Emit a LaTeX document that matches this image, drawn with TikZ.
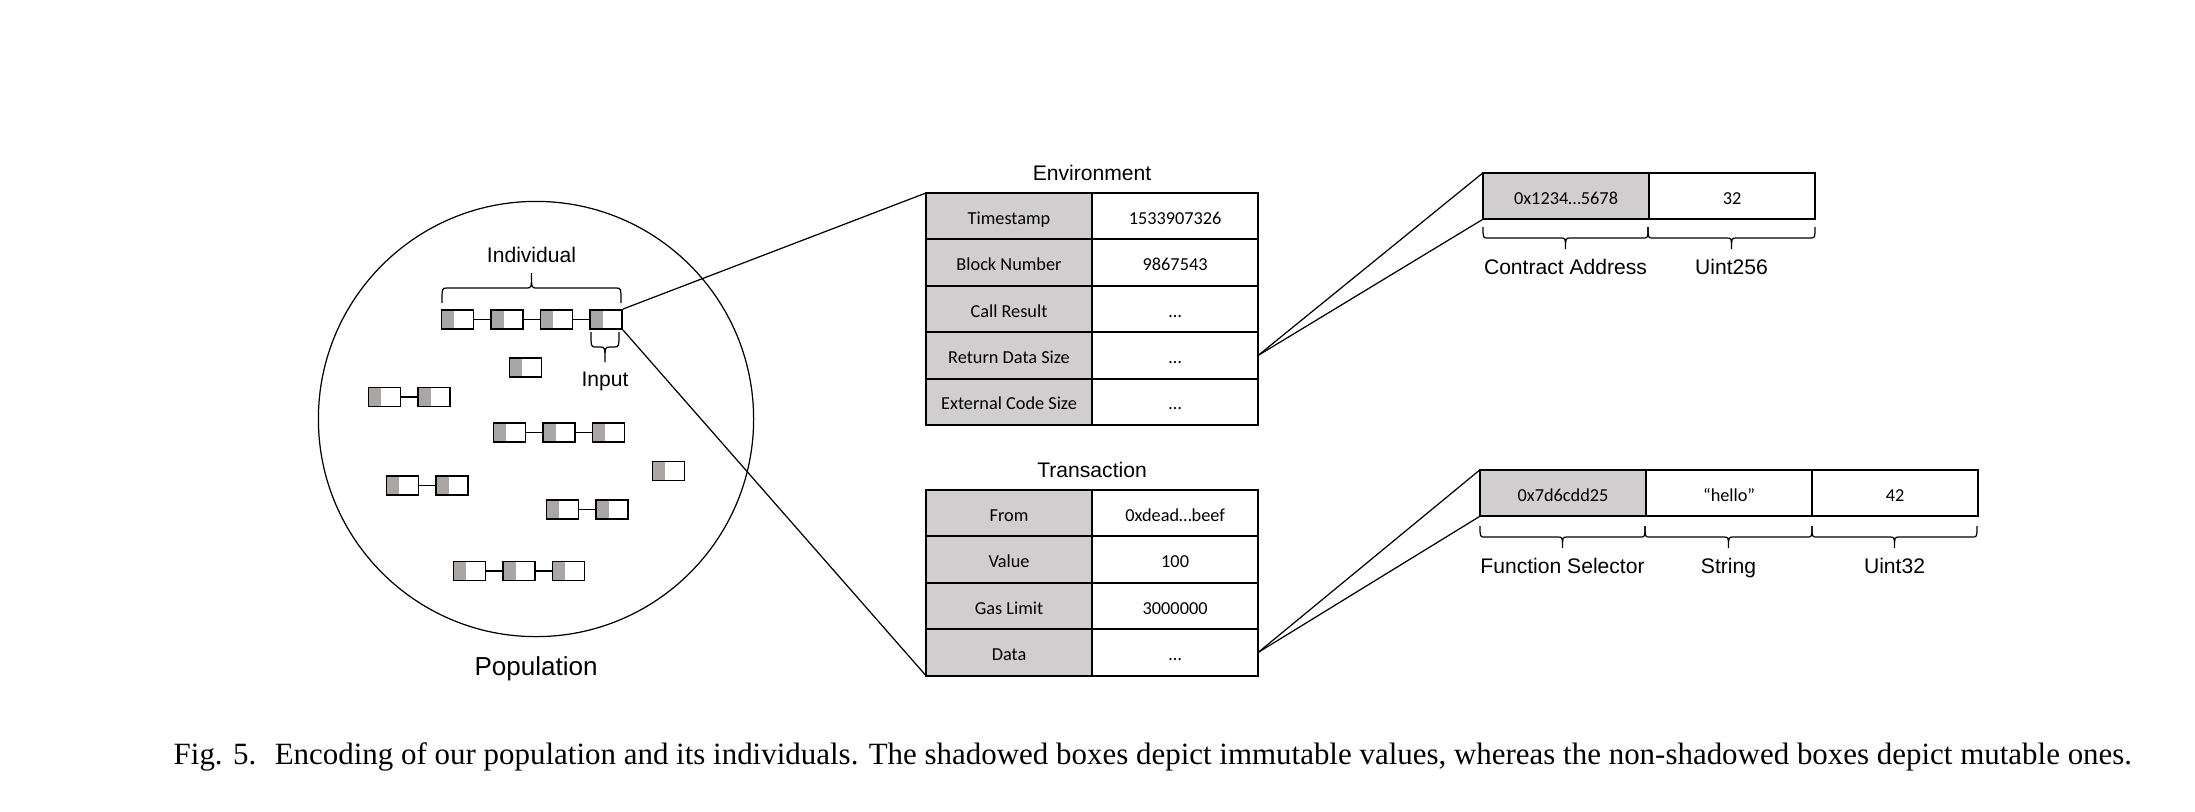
\documentclass[tikz,border=0pt]{standalone}
\usepackage{fontspec}
\setmainfont{Liberation Serif}
\setsansfont{Liberation Sans}
\newfontfamily\cellfont{Carlito}
\usetikzlibrary{positioning}

\definecolor{genegray}{RGB}{170,166,166}
\definecolor{cellgray}{RGB}{208,206,206}

\begin{document}
\begin{tikzpicture}[x=0.01cm, y=-0.01cm,
  gene/.style={draw, line width=0.55pt, minimum width=0.32cm, minimum height=0.19cm, inner sep=0pt,
    path picture={\fill[genegray] (path picture bounding box.south west) rectangle ([xshift=0.125cm]path picture bounding box.north west);}},
  link/.style={line width=0.55pt},
  thin/.style={line width=0.35pt},
  keycell/.style={draw, line width=0.6pt, fill=cellgray, minimum width=1.66cm, minimum height=0.464cm,
    inner sep=0pt, outer sep=0pt, text height=1.3ex, text depth=0.3ex, font=\cellfont\fontsize{5.2}{6}\selectfont},
  valcell/.style={keycell, fill=white},
  lab/.style={font=\sffamily\fontsize{6}{7}\selectfont, inner sep=1pt},
  brc/.style={line width=0.35pt}
]
  \useasboundingbox (0,0) rectangle (2195,811);

  % population
  \node[draw, thin, circle, minimum size=4.35cm, inner sep=0pt] (pop) at (536,419) {};
  \node[lab, font=\sffamily\fontsize{7.4}{9}\selectfont, below=0.15cm of pop] (poplab) {Population};

  % individuals
  \foreach \cx/\cy/\n [count=\k] in {457.5/319.5/4, 525.5/367.5/1, 384.5/397/2, 509.5/432.5/3,
      668.5/471/1, 402.5/485.5/2, 562.5/509.5/2, 469.5/571/3} {
    \foreach \i in {1,...,\n}
      \node[gene] (g\k-\i) at ({\cx+49.5*(\i-1)}, \cy) {};
    \ifnum\n>1
      \foreach \i [remember=\i as \j (initially 1)] in {2,...,\n}
        \draw[link] (g\k-\j) -- (g\k-\i);
    \fi
  }

  % environment
  \foreach \k/\v [count=\r] in {Timestamp/1533907326, Block Number/9867543, Call Result/…,
      Return Data Size/…, External Code Size/…} {
    \node[keycell] (env-\r-k) at (1009, {169.8+46.4*\r}) {\k};
    \node[valcell, right=0pt of env-\r-k] (env-\r-v) {\v};
  }
  \node[lab, above=0.08cm of env-1-k.north east] (envlab) {Environment};

  % transaction
  \foreach \k/\v [count=\r] in {From/0xdead…beef, Value/100, Gas Limit/3000000, Data/…} {
    \node[keycell] (tx-\r-k) at (1009, {466.8+46.4*\r}) {\k};
    \node[valcell, right=0pt of tx-\r-k] (tx-\r-v) {\v};
  }
  \node[lab, above=0.08cm of tx-1-k.north east] (txlab) {Transaction};

  % input values
  \node[keycell] (con-1) at (1566,196) {0x1234…5678};
  \node[valcell, right=0pt of con-1] (con-2) {32};
  \node[keycell] (fun-1) at (1563,493) {0x7d6cdd25};
  \node[valcell, right=0pt of fun-1] (fun-2) {“hello”};
  \node[valcell, right=0pt of fun-2] (fun-3) {42};

  % braces
  \foreach \xa/\xb/\ya/\yb/\txt/\pos [count=\b] in {442/621/303/273/Individual/above,
      591/619/332/362/Input/below, 1483/1648/227/249/Contract Address/below,
      1648/1815/227/249/Uint256/below, 1480/1645/526/548/Function Selector/below,
      1645/1812/526/548/String/below, 1812/1977/526/548/Uint32/below} {
    \pgfmathsetmacro\xm{(\xa+\xb)/2}
    \pgfmathsetmacro\ym{(\ya+\yb)/2}
    \draw[brc] (\xa,\ya) .. controls (\xa,\ym) .. (\xa+5,\ym) -- (\xm-5,\ym)
      .. controls (\xm,\ym) .. (\xm,\yb) .. controls (\xm,\ym) .. (\xm+5,\ym)
      -- (\xb-5,\ym) .. controls (\xb,\ym) .. (\xb,\ya);
    \coordinate (tip-\b) at (\xm,\yb);
    \node[lab, \pos=0.06cm of tip-\b] (blab-\b) {\txt};
  }

  % zoom lines
  \draw[thin] (g1-4.north east) -- (env-1-k.north west);
  \draw[thin] (g1-4.south east) -- (tx-4-k.south west);
  \draw[thin] (env-4-v.east) -- (con-1.north west);
  \draw[thin] (env-4-v.east) -- (con-1.south west);
  \draw[thin] (tx-4-v.east) -- (fun-1.north west);
  \draw[thin] (tx-4-v.east) -- (fun-1.south west);

  % caption
  \node[anchor=base west, inner sep=0pt, font=\fontsize{8.8}{10}\selectfont] (cap) at (173,764)
    {Fig. 5.\hspace{0.6em}Encoding of our population and its individuals. The shadowed boxes depict immutable values, whereas the non-shadowed boxes depict mutable ones.};
\end{tikzpicture}
\end{document}
